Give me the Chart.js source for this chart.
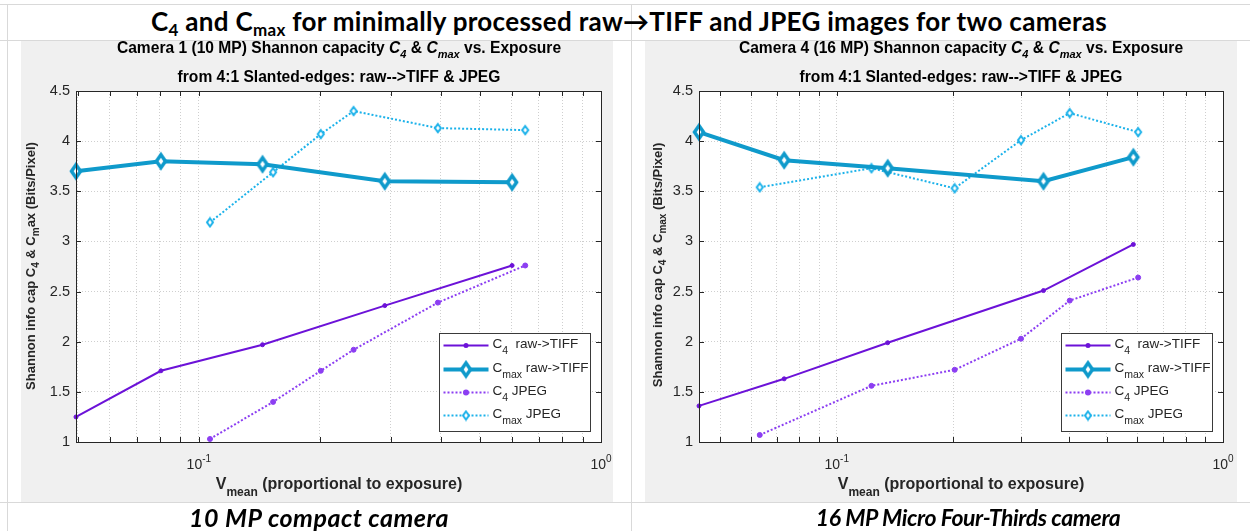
<!DOCTYPE html>
<html>
<head>
<meta charset="utf-8">
<script src="https://cdn.jsdelivr.net/npm/chart.js@4"></script>
<style>
  body { margin: 0; width: 1250px; height: 531px; background: #fff; position: relative; overflow: hidden;
         font-family: "Liberation Sans", Arial, sans-serif; color: #000; }
  .hline { position: absolute; left: 0; width: 1250px; height: 1px; background: #d9d9d9; }
  .vline { position: absolute; top: 4px; height: 527px; width: 1px; background: #d9d9d9; }
  #mainTitle { position: absolute; left: 0; top: 3px; width: 1258px; height: 36px; line-height: 36px; text-align: center;
               font-family: Lato, "Open Sans", sans-serif; font-weight: 700; font-size: 26px; letter-spacing: 0.3px; white-space: nowrap; }
  #mainTitle .sb { font-size: 17px; top: 5px; }
  .panel { position: absolute; top: 41px; height: 461px; background: #f0f0f0; }
  .panel canvas { position: absolute; left: 0; top: 0; }
  .ptitle { position: absolute; text-align: center; font-weight: bold; font-size: 15.6px; line-height: 20px; white-space: nowrap; color: #000; }
  .ptitle .sb { font-size: 11px; top: 5px; }
  .ytitle { position: absolute; width: 400px; height: 20px; line-height: 20px; text-align: center; font-weight: bold;
            font-size: 13px; color: #262626; transform: rotate(-90deg); white-space: nowrap; }
  .ytitle .sb { font-size: 10px; top: 4px; }
  .xtitle { position: absolute; text-align: center; font-weight: bold; font-size: 16px; line-height: 20px; color: #262626; white-space: nowrap; }
  .xtitle .sb { font-size: 12px; top: 7px; }
  .sb { position: relative; }
  .caption { position: absolute; top: 503px; height: 28px; line-height: 28px; text-align: center;
             font-family: Lato, "Open Sans", sans-serif; font-weight: 700; font-style: italic; white-space: nowrap; }
</style>
</head>
<body>
<div class="hline" style="top:4px"></div>
<div class="hline" style="top:40px"></div>
<div class="hline" style="top:502px"></div>
<div class="vline" style="left:7px"></div>
<div class="vline" style="left:631px"></div>

<div id="mainTitle">C<span class="sb">4</span> and C<span class="sb">max</span> for minimally processed raw→TIFF and JPEG images for two cameras</div>

<div class="panel" id="panel1" style="left:21px; width:592px;">
  <canvas id="chart1" width="592" height="461"></canvas>
  <div class="ptitle" style="left:55px; width:526px; top:-3px;">Camera 1 (10 MP) Shannon capacity <i>C<span class="sb">4</span></i> &amp; <i>C<span class="sb">max</span></i> vs. Exposure</div>
  <div class="ptitle" style="left:55px; width:526px; top:26px;">from 4:1 Slanted-edges: raw--&gt;TIFF &amp; JPEG</div>
  <div class="ytitle" style="left:-190px; top:215px;">Shannon info cap C<span class="sb">4</span> &amp; C<span class="sb">m</span>ax (Bits/Pixel)</div>
  <div class="xtitle" style="left:55px; width:526px; top:433px;">V<span class="sb">mean</span> (proportional to exposure)</div>
</div>

<div class="panel" id="panel2" style="left:645px; width:592px;">
  <canvas id="chart2" width="592" height="461"></canvas>
  <div class="ptitle" style="left:54px; width:524px; top:-3px;">Camera 4 (16 MP) Shannon capacity <i>C<span class="sb">4</span></i> &amp; <i>C<span class="sb">max</span></i> vs. Exposure</div>
  <div class="ptitle" style="left:54px; width:524px; top:26px;">from 4:1 Slanted-edges: raw--&gt;TIFF &amp; JPEG</div>
  <div class="ytitle" style="left:-187px; top:214px;">Shannon info cap C<span class="sb">4</span> &amp; C<span class="sb">max</span> (Bits/Pixel)</div>
  <div class="xtitle" style="left:54px; width:524px; top:433px;">V<span class="sb">mean</span> (proportional to exposure)</div>
</div>

<div class="caption" style="left:19px; width:600px; font-size:25px; letter-spacing:0.5px;">10 MP compact camera</div>
<div class="caption" style="left:668px; width:600px; font-size:23px; letter-spacing:-0.4px;">16 MP Micro Four-Thirds camera</div>

<script>
// Camera 1 (10 MP)
const cam1RawExposure = [0.0495, 0.0805, 0.144, 0.290, 0.601];
const cam1C4Raw = [1.25, 1.71, 1.97, 2.36, 2.76];
const cam1CmaxRaw = [3.70, 3.80, 3.77, 3.60, 3.59];
const cam1JpegExposure = [0.1066, 0.153, 0.201, 0.2426, 0.393, 0.648];
const cam1C4Jpeg = [1.03, 1.40, 1.71, 1.92, 2.39, 2.76];
const cam1CmaxJpeg = [3.19, 3.69, 4.07, 4.30, 4.13, 4.11];

// Camera 4 (16 MP)
const cam4RawExposure = [0.044, 0.0731, 0.1355, 0.343, 0.586];
const cam4C4Raw = [1.36, 1.63, 1.99, 2.51, 2.97];
const cam4CmaxRaw = [4.09, 3.81, 3.73, 3.60, 3.84];
const cam4JpegExposure = [0.0632, 0.123, 0.202, 0.300, 0.401, 0.603];
const cam4C4Jpeg = [1.07, 1.56, 1.72, 2.03, 2.41, 2.64];
const cam4CmaxJpeg = [3.54, 3.73, 3.53, 4.01, 4.28, 4.09];

const xTickValues = [0.04, 0.05, 0.06, 0.07, 0.08, 0.09, 0.1, 0.2, 0.3, 0.4, 0.5, 0.6, 0.7, 0.8, 0.9, 1];
const xDecadeLabels = [[0.1, '-1'], [1, '0']];
const yTickValues = [1, 1.5, 2, 2.5, 3, 3.5, 4, 4.5];
const legendLabels = [
  [['C', ''], ['4', 'sub'], ['  raw->TIFF', '']],
  [['C', ''], ['max', 'sub'], [' raw->TIFF', '']],
  [['C', ''], ['4', 'sub'], [' JPEG', '']],
  [['C', ''], ['max', 'sub'], [' JPEG', '']]
];

const c4RawColor = '#6c12d8';
const cmaxRawColor = '#0f9acb';
const c4JpegColor = '#8c3ef2';
const cmaxJpegColor = '#1cb2ea';
const inkColor = '#262626';
const tickFont = '"Liberation Sans", Arial, sans-serif';

function pts(xs, ys) { return xs.map((x, i) => ({ x, y: ys[i] })); }

function diamond(w, h, lw, stroke, fill) {
  const c = document.createElement('canvas');
  c.width = Math.ceil(w + lw * 2); c.height = Math.ceil(h + lw * 2);
  const g = c.getContext('2d');
  const cx = c.width / 2, cy = c.height / 2;
  g.beginPath();
  g.moveTo(cx, cy - h / 2); g.lineTo(cx + w / 2, cy); g.lineTo(cx, cy + h / 2); g.lineTo(cx - w / 2, cy);
  g.closePath();
  g.fillStyle = fill; g.fill();
  g.lineWidth = lw; g.strokeStyle = stroke; g.lineJoin = 'miter'; g.stroke();
  return c;
}
const bigDiamond = diamond(9, 13, 3.5, cmaxRawColor, '#ffffff');
const smallDiamond = diamond(6, 8, 2, cmaxJpegColor, '#ffffff');

function makeDatasets(rawX, c4Raw, cmaxRaw, jpgX, c4Jpg, cmaxJpg) {
  return [
    { label: 'C4 raw->TIFF', data: pts(rawX, c4Raw), borderColor: c4RawColor, backgroundColor: c4RawColor,
      borderWidth: 2, pointRadius: 2, pointBorderWidth: 1, pointStyle: 'circle' },
    { label: 'Cmax raw->TIFF', data: pts(rawX, cmaxRaw), borderColor: cmaxRawColor, backgroundColor: cmaxRawColor,
      borderWidth: 4, pointStyle: bigDiamond, pointRadius: 8 },
    { label: 'C4 JPEG', data: pts(jpgX, c4Jpg), borderColor: c4JpegColor, backgroundColor: c4JpegColor,
      borderWidth: 2, borderDash: [2, 2], pointRadius: 2.5, pointBorderWidth: 1, pointStyle: 'circle' },
    { label: 'Cmax JPEG', data: pts(jpgX, cmaxJpg), borderColor: cmaxJpegColor, backgroundColor: cmaxJpegColor,
      borderWidth: 2, borderDash: [2, 2], pointStyle: smallDiamond, pointRadius: 5 }
  ].map(d => Object.assign(d, { showLine: true, fill: false, clip: false, tension: 0 }));
}

function drawParts(ctx, x, y, parts, size, subSize, subDrop) {
  parts.forEach(([t, kind]) => {
    const s = kind === 'sub' ? subSize : size;
    ctx.font = s + 'px ' + tickFont;
    ctx.fillText(t, x, kind === 'sub' ? y + subDrop : y);
    x += ctx.measureText(t).width;
  });
}

const matlabAxes = {
  id: 'matlabAxes',
  beforeDraw(chart) {
    const { ctx, chartArea: a } = chart;
    ctx.save();
    ctx.fillStyle = '#ffffff';
    ctx.fillRect(a.left, a.top, a.right - a.left, a.bottom - a.top);
    ctx.restore();
  },
  afterDraw(chart) {
    const { ctx, chartArea: a, scales: { x, y } } = chart;
    ctx.save();
    ctx.strokeStyle = inkColor; ctx.lineWidth = 1;
    ctx.beginPath();
    x.ticks.forEach(t => {
      const px = Math.round(x.getPixelForValue(t.value)) + 0.5;
      ctx.moveTo(px, a.bottom); ctx.lineTo(px, a.bottom - 5);
      ctx.moveTo(px, a.top); ctx.lineTo(px, a.top + 5);
    });
    y.ticks.forEach(t => {
      const py = Math.round(y.getPixelForValue(t.value)) + 0.5;
      ctx.moveTo(a.left, py); ctx.lineTo(a.left + 5, py);
      ctx.moveTo(a.right, py); ctx.lineTo(a.right - 5, py);
    });
    ctx.stroke();
    ctx.strokeRect(Math.round(a.left) + 0.5, Math.round(a.top) + 0.5, Math.round(a.right - a.left), Math.round(a.bottom - a.top));

    // decade labels 10^-1, 10^0
    ctx.fillStyle = inkColor;
    ctx.textBaseline = 'alphabetic';
    xDecadeLabels.forEach(([v, e]) => {
      ctx.font = '14px ' + tickFont;
      const w1 = ctx.measureText('10').width;
      ctx.font = '10px ' + tickFont;
      const w2 = ctx.measureText(e).width;
      const px = x.getPixelForValue(v);
      const sx = px - (w1 + w2) / 2;
      ctx.font = '14px ' + tickFont;
      ctx.fillText('10', sx, a.bottom + 27);
      ctx.font = '10px ' + tickFont;
      ctx.fillText(e, sx + w1, a.bottom + 20);
    });

    // legend box
    const bw = 151, bh = 98;
    const bx = Math.round(a.right - 11 - bw) + 0.5, by = Math.round(a.bottom - 11 - bh) + 0.5;
    ctx.fillStyle = '#ffffff';
    ctx.fillRect(bx, by, bw, bh);
    ctx.strokeStyle = '#3a3a3a';
    ctx.strokeRect(bx, by, bw, bh);
    const rows = [12, 36, 59, 82];
    chart.data.datasets.forEach((ds, i) => {
      const ly = by + rows[i];
      ctx.save();
      ctx.strokeStyle = ds.borderColor; ctx.lineWidth = ds.borderWidth;
      ctx.setLineDash(ds.borderDash || []);
      ctx.beginPath(); ctx.moveTo(bx + 4, ly); ctx.lineTo(bx + 49, ly); ctx.stroke();
      ctx.setLineDash([]);
      const mx = bx + 26.5;
      if (ds.pointStyle === 'circle') {
        ctx.fillStyle = ds.backgroundColor;
        ctx.beginPath(); ctx.arc(mx, ly, ds.pointRadius + 0.5, 0, Math.PI * 2); ctx.fill();
      } else {
        const im = ds.pointStyle;
        ctx.drawImage(im, mx - im.width / 2, ly - im.height / 2);
      }
      ctx.restore();
      ctx.fillStyle = inkColor;
      ctx.textBaseline = 'middle';
      drawParts(ctx, bx + 53, ly - 1, legendLabels[i], 13.5, 10.5, 7);
    });
    ctx.restore();
  }
};

function makeChart(id, xmin, yAxisWidth, rightPad, datasets) {
  const gridStyle = { color: '#cfcfcf', lineWidth: 1, drawTicks: false };
  new Chart(document.getElementById(id), {
    type: 'scatter',
    data: { datasets },
    options: {
      responsive: false,
      animation: false,
      events: [],
      layout: { padding: { top: 50, right: rightPad, left: 0, bottom: 0 } },
      plugins: { legend: { display: false }, title: { display: false }, tooltip: { enabled: false } },
      scales: {
        x: {
          type: 'logarithmic', min: xmin, max: 1,
          afterBuildTicks: s => { s.ticks = xTickValues.filter(v => v >= s.min && v <= s.max).map(v => ({ value: v })); },
          afterFit: s => { s.height = 60; },
          ticks: { display: false },
          grid: gridStyle,
          border: { display: false, dash: [1, 2] }
        },
        y: {
          min: 1, max: 4.5,
          afterBuildTicks: s => { s.ticks = yTickValues.map(v => ({ value: v })); },
          afterFit: s => { s.width = yAxisWidth; },
          ticks: { color: inkColor, padding: 6, font: { family: tickFont, size: 14.5 },
                   callback: v => String(v) },
          grid: gridStyle,
          border: { display: false, dash: [1, 2] }
        }
      }
    },
    plugins: [matlabAxes]
  });
}

makeChart('chart1', 0.0495, 55, 11,
  makeDatasets(cam1RawExposure, cam1C4Raw, cam1CmaxRaw, cam1JpegExposure, cam1C4Jpeg, cam1CmaxJpeg));
makeChart('chart2', 0.044, 54, 14,
  makeDatasets(cam4RawExposure, cam4C4Raw, cam4CmaxRaw, cam4JpegExposure, cam4C4Jpeg, cam4CmaxJpeg));
</script>
</body>
</html>
